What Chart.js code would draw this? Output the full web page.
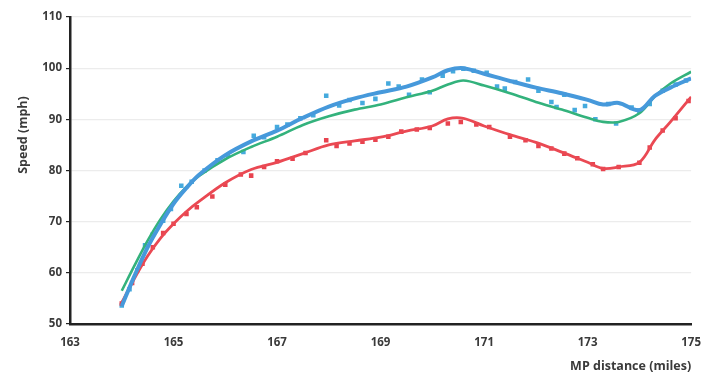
<!DOCTYPE html>
<html>
<head>
<meta charset="utf-8">
<script src="https://cdn.jsdelivr.net/npm/chart.js@4/dist/chart.umd.min.js"></script>
<style>
  html, body { margin: 0; padding: 0; background: #fff; }
  #wrap { width: 705px; height: 374px; }
</style>
</head>
<body>
<div id="wrap"><canvas id="c" width="705" height="374"></canvas></div>
<script>
// Fitted curves (miles -> mph)
const lineX     = [164.0, 164.25, 164.5, 164.75, 165.0, 165.25, 165.5, 166.0, 166.5, 167.0, 167.5, 168.0, 168.5, 169.0, 169.5, 170.0, 170.3, 170.6, 171.0, 171.5, 172.0, 172.5, 173.0, 173.3, 173.6, 174.0, 174.3, 174.6, 175.0];
const blueLine  = [53.5, 59.5, 65.0, 69.5, 73.5, 76.6, 79.2, 83.0, 85.7, 87.8, 90.3, 92.5, 94.1, 95.3, 96.4, 98.2, 99.6, 100.0, 98.9, 97.5, 96.2, 95.1, 93.8, 92.9, 93.2, 91.8, 94.6, 96.2, 98.0];
const greenLine = [56.5, 61.5, 66.3, 70.5, 74.0, 76.8, 79.0, 82.2, 84.6, 86.6, 88.9, 90.6, 91.9, 92.9, 94.3, 95.6, 96.8, 97.6, 96.6, 95.1, 93.4, 91.9, 90.3, 89.5, 89.5, 91.2, 94.5, 97.0, 99.3];
const redLine   = [54.2, 59.0, 63.3, 66.8, 69.6, 72.0, 74.0, 77.6, 80.2, 81.6, 83.3, 85.0, 85.8, 86.5, 87.7, 88.7, 90.1, 90.2, 88.7, 87.0, 85.5, 83.6, 81.6, 80.4, 80.7, 81.6, 86.0, 89.5, 94.4];

// Measured points
const bluePtsX = [164.0, 164.15, 164.3, 164.45, 164.6, 164.8, 164.95, 165.15, 165.35, 165.6, 165.85, 166.05, 166.35, 166.55, 166.75, 167.0, 167.2, 167.45, 167.7, 167.95, 168.2, 168.4, 168.65, 168.9, 169.15, 169.35, 169.55, 169.8, 169.95, 170.2, 170.4, 170.6, 170.8, 171.05, 171.25, 171.4, 171.6, 171.85, 172.05, 172.3, 172.4, 172.55, 172.75, 172.95, 173.15, 173.4, 173.55, 173.85, 174.0, 174.2, 174.45, 174.7, 174.9];
const bluePtsY = [53.6, 56.8, 60.5, 65.4, 67.5, 70.2, 72.5, 77.0, 77.8, 80.0, 82.0, 83.0, 83.6, 86.8, 86.5, 88.5, 89.0, 90.2, 90.8, 94.6, 92.7, 93.8, 93.2, 94.0, 97.0, 96.4, 94.8, 97.8, 95.3, 98.5, 99.4, 99.9, 99.5, 99.1, 96.4, 96.0, 97.3, 97.8, 95.6, 93.4, 92.4, 94.8, 91.8, 92.6, 90.0, 93.0, 89.2, 92.3, 91.7, 93.0, 95.6, 96.8, 97.6];
const redPtsX  = [164.0, 164.2, 164.4, 164.6, 164.8, 165.0, 165.25, 165.45, 165.75, 166.0, 166.3, 166.5, 166.75, 167.0, 167.3, 167.55, 167.95, 168.15, 168.4, 168.65, 168.9, 169.15, 169.4, 169.7, 169.95, 170.3, 170.55, 170.85, 171.1, 171.5, 171.8, 172.05, 172.3, 172.55, 172.8, 173.1, 173.3, 173.6, 174.0, 174.2, 174.45, 174.7, 174.95];
const redPtsY  = [54.0, 58.0, 61.8, 65.0, 67.8, 69.6, 71.5, 72.8, 74.9, 77.2, 79.2, 79.0, 80.7, 81.8, 82.3, 83.4, 85.9, 84.8, 85.3, 85.6, 86.0, 86.6, 87.6, 88.0, 88.3, 89.2, 89.5, 89.0, 88.5, 86.6, 85.9, 84.8, 84.3, 83.3, 82.4, 81.2, 80.3, 80.7, 81.5, 84.5, 87.8, 90.2, 93.6];

const xMin = 163, xMax = 175, xStep = 2;
const yMin = 50, yMax = 110, yStep = 10;
const yTitle = 'Speed (mph)';
const xTitle = 'MP distance (miles)';

const pts = (xs, ys) => xs.map((x, i) => ({x: x, y: ys[i]}));

const FONT = '"Open Sans", "Liberation Sans", sans-serif';
const TXT = '#3a3a3a';

const yTitlePlugin = {
  id: 'yTitle',
  afterDraw(chart) {
    const ctx = chart.ctx;
    ctx.save();
    ctx.translate(23, 135);
    ctx.rotate(-Math.PI / 2);
    ctx.font = 'bold 12.5px ' + FONT;
    ctx.fillStyle = TXT;
    ctx.textAlign = 'center';
    ctx.textBaseline = 'middle';
    ctx.fillText(yTitle, 0, 0);
    ctx.restore();
  }
};

new Chart(document.getElementById('c'), {
  type: 'scatter',
  data: {
    datasets: [
      { label: 'blue pts', data: pts(bluePtsX, bluePtsY), pointStyle: 'rect', pointRadius: 3.2, backgroundColor: '#45aadd', borderWidth: 0, showLine: false, order: 5 },
      { label: 'red pts', data: pts(redPtsX, redPtsY), pointStyle: 'rect', pointRadius: 3.2, backgroundColor: '#e8434f', borderWidth: 0, showLine: false, order: 4 },
      { label: 'green', data: pts(lineX, greenLine), showLine: true, borderColor: '#33b27c', borderWidth: 2.6, pointRadius: 0, tension: 0.35, order: 3 },
      { label: 'red', data: pts(lineX, redLine), showLine: true, borderColor: '#ea4953', borderWidth: 2.8, pointRadius: 0, tension: 0.35, order: 2 },
      { label: 'blue', data: pts(lineX, blueLine), showLine: true, borderColor: '#4699db', borderWidth: 4, pointRadius: 0, tension: 0.35, order: 1 }
    ]
  },
  options: {
    responsive: false,
    animation: false,
    layout: { padding: { left: 0, right: 0, top: 17, bottom: 0 } },
    plugins: { legend: { display: false }, tooltip: { enabled: false } },
    scales: {
      x: {
        type: 'linear', min: xMin, max: xMax,
        ticks: { stepSize: xStep, color: TXT, font: { family: FONT, size: 11.5, weight: 'bold' }, padding: 4 },
        grid: { display: false },
        border: { color: '#222', width: 2.5 },
        title: { display: true, text: xTitle, align: 'end', color: TXT, font: { family: FONT, size: 12.5, weight: 'bold' }, padding: { top: 10, bottom: 0 } },
        afterFit(scale) { scale.height = 50; }
      },
      y: {
        min: yMin, max: yMax,
        ticks: { stepSize: yStep, color: TXT, font: { family: FONT, size: 11.5, weight: 'bold' }, padding: 4 },
        grid: { color: '#ececec', lineWidth: 1.2, tickLength: 4, tickColor: '#222', drawTicks: true },
        border: { color: '#222', width: 2.5 },
        afterFit(scale) { scale.width = 70; }
      }
    }
  },
  plugins: [yTitlePlugin]
});
</script>
</body>
</html>
